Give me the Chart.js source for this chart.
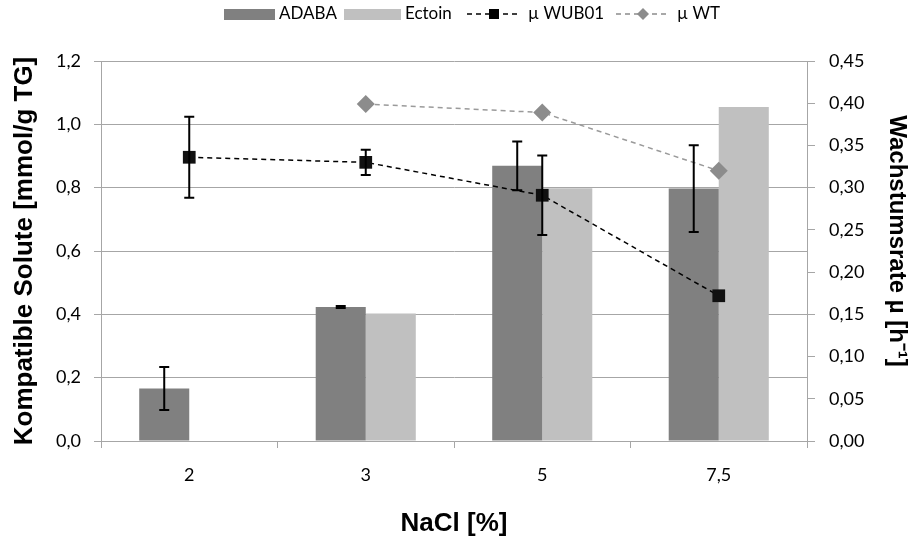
<!DOCTYPE html>
<html>
<head>
<meta charset="utf-8">
<script src="https://cdn.jsdelivr.net/npm/chart.js"></script>
<style>
  html, body { margin: 0; padding: 0; background: #fff; }
  #wrap { width: 915px; height: 539px; position: relative; }
</style>
</head>
<body>
<div id="wrap"><canvas id="c"></canvas></div>
<script>
// data
const categories = ['2', '3', '5', '7,5'];
const adaba = [0.166, 0.423, 0.869, 0.797];
const adabaErr = [0.068, 0.003, 0.077, 0.137];
const ectoin = [null, 0.403, 0.798, 1.055];
const wub01 = [0.336, 0.330, 0.291, 0.172];
const wub01Err = [0.048, 0.015, 0.047, 0];
const wt = [null, 0.399, 0.389, 0.320];
const leftTicks = [0, 0.2, 0.4, 0.6, 0.8, 1.0, 1.2];
const rightTicks = [0, 0.05, 0.10, 0.15, 0.20, 0.25, 0.30, 0.35, 0.40, 0.45];

const tickFont = { family: 'Lato', size: 18 };
const gridCol = '#a6a6a6';

// error bars drawn from the scales
const errorBars = {
  id: 'errorBars',
  afterDatasetsDraw(chart) {
    const ctx = chart.ctx;
    chart.data.datasets.forEach((ds, di) => {
      if (!ds.errors) return;
      const meta = chart.getDatasetMeta(di);
      const sc = chart.scales[ds.yAxisID];
      meta.data.forEach((el, i) => {
        const v = ds.data[i], e = ds.errors[i];
        if (v == null || !e) return;
        const x = el.x;
        const top = sc.getPixelForValue(v + e);
        const bot = sc.getPixelForValue(v - e);
        ctx.save();
        ctx.strokeStyle = '#000';
        ctx.lineWidth = 2;
        ctx.beginPath();
        ctx.moveTo(x, top); ctx.lineTo(x, bot);
        ctx.moveTo(x - 5, top); ctx.lineTo(x + 5, top);
        ctx.moveTo(x - 5, bot); ctx.lineTo(x + 5, bot);
        ctx.stroke();
        ctx.restore();
      });
    });
  }
};

// legend across the top, drawn by hand
const topLegend = {
  id: 'topLegend',
  afterDraw(chart) {
    const ctx = chart.ctx;
    const y = 14;
    ctx.save();
    ctx.font = '17px Lato';
    ctx.textBaseline = 'middle';
    ctx.fillStyle = '#808080';
    ctx.fillRect(224, y - 5, 51, 11);
    ctx.fillStyle = '#000';
    ctx.fillText('ADABA', 279, y);
    ctx.fillStyle = '#c0c0c0';
    ctx.fillRect(344, y - 5, 57, 11);
    ctx.fillStyle = '#000';
    ctx.fillText('Ectoin', 405, y);

    const lineItem = (x0, col, shape, label) => {
      ctx.strokeStyle = col;
      ctx.lineWidth = 1.5;
      ctx.setLineDash([5, 4]);
      ctx.beginPath();
      ctx.moveTo(x0, y); ctx.lineTo(x0 + 54, y);
      ctx.stroke();
      ctx.setLineDash([]);
      ctx.fillStyle = col;
      const cx = x0 + 27;
      if (shape === 'rect') {
        ctx.fillRect(cx - 5, y - 5, 10, 10);
      } else {
        ctx.beginPath();
        ctx.moveTo(cx, y - 6); ctx.lineTo(cx + 6, y); ctx.lineTo(cx, y + 6); ctx.lineTo(cx - 6, y);
        ctx.closePath(); ctx.fill();
      }
      ctx.fillStyle = '#000';
      ctx.fillText(label, x0 + 61, y);
    };
    lineItem(467, '#000', 'rect', 'µ WUB01');
    lineItem(616, '#8c8c8c', 'diamond', 'µ WT');
    ctx.restore();
  }
};

new Chart(document.getElementById('c'), {
  data: {
    labels: categories,
    datasets: [
      { type: 'line', label: 'µ WUB01', data: wub01, errors: wub01Err, yAxisID: 'y2',
        borderColor: '#000', borderWidth: 1.5, borderDash: [5, 4], backgroundColor: '#000',
        pointStyle: 'rect', pointRadius: 9, pointBorderWidth: 0, pointBackgroundColor: '#111', order: 1 },
      { type: 'line', label: 'µ WT', data: wt, yAxisID: 'y2',
        borderColor: '#9a9a9a', borderWidth: 1.5, borderDash: [5, 4], backgroundColor: '#8c8c8c',
        pointStyle: 'rectRot', pointRadius: 9, pointBorderWidth: 0, pointBackgroundColor: '#8c8c8c', order: 2 },
      { type: 'bar', label: 'ADABA', data: adaba, errors: adabaErr, yAxisID: 'y',
        backgroundColor: '#808080', order: 3 },
      { type: 'bar', label: 'Ectoin', data: ectoin, yAxisID: 'y',
        backgroundColor: '#c0c0c0', order: 4 }
    ]
  },
  options: {
    responsive: true,
    maintainAspectRatio: false,
    animation: false,
    layout: { padding: { top: 61, left: 0, right: 0, bottom: 0 } },
    datasets: { bar: { barPercentage: 1, categoryPercentage: 0.567 } },
    plugins: { legend: { display: false }, tooltip: { enabled: false } },
    scales: {
      x: {
        offset: true,
        grid: { display: true, offset: true, drawOnChartArea: false, tickLength: 7, color: gridCol },
        border: { color: gridCol },
        ticks: { font: tickFont, color: '#000', padding: 16 },
        title: { display: true, text: 'NaCl [%]', color: '#000', padding: 0,
          font: { family: 'Liberation Sans', size: 26, weight: 'bold' } },
        afterFit(s) { s.height = 98; }
      },
      y: {
        position: 'left', min: 0, max: 1.2,
        afterBuildTicks(s) { s.ticks = leftTicks.map(v => ({ value: v })); },
        grid: { color: gridCol, tickLength: 7 },
        border: { color: gridCol },
        ticks: { font: tickFont, color: '#000', padding: 13,
          callback: v => v.toFixed(1).replace('.', ',') },
        title: { display: true, text: 'Kompatible Solute [mmol/g TG]', color: '#000', padding: { top: 9 },
          font: { family: 'Liberation Sans', size: 26, weight: 'bold' } },
        afterFit(s) { s.width = 101; }
      },
      y2: {
        position: 'right', min: 0, max: 0.45,
        afterBuildTicks(s) { s.ticks = rightTicks.map(v => ({ value: v })); },
        grid: { drawOnChartArea: false, color: gridCol, tickLength: 8 },
        border: { color: gridCol },
        ticks: { font: tickFont, color: '#000', padding: 14,
          callback: v => v.toFixed(2).replace('.', ',') },
        title: { display: true, text: 'Wachstumsrate µ [h⁻¹]\u00a0\u00a0\u00a0', color: '#000', padding: { top: 4 },
          font: { family: 'Liberation Sans', size: 24, weight: 'bold' } },
        afterFit(s) { s.width = 108; }
      }
    }
  },
  plugins: [errorBars, topLegend]
});
</script>
</body>
</html>
